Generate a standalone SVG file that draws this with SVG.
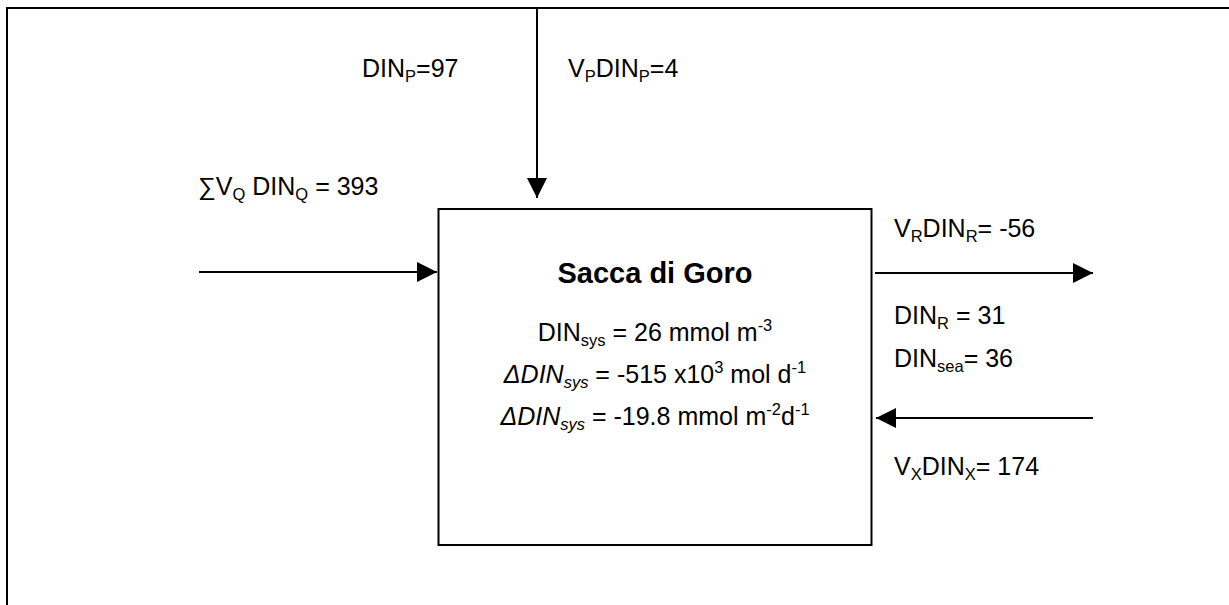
<svg xmlns="http://www.w3.org/2000/svg" width="1229" height="605" viewBox="0 0 1229 605">
<style>
text{font-family:"Liberation Sans",Arial,sans-serif;font-size:25px;fill:#000}
.title{font-weight:bold;font-size:29px}
.sub{font-size:16.5px;baseline-shift:-5px}
.sup{font-size:16.5px;baseline-shift:10px}
.it{font-style:italic}
.frame{fill:none;stroke:#000;stroke-width:2}
.conn{stroke:#000;stroke-width:2;fill:none}
</style>
<defs>
<marker id="ah" markerUnits="userSpaceOnUse" markerWidth="20" markerHeight="20" refX="20" refY="10" orient="auto">
<path d="M0,0 L20,10 L0,20 z" fill="#000"/>
</marker>
</defs>
<rect width="1229" height="605" fill="#fff"/>
<path class="frame" d="M7,605 L7,8 L1229,8"/>
<g id="box">
<rect x="438.5" y="209" width="433" height="336" fill="#fff" stroke="#000" stroke-width="2"/>
<text class="title" x="655" y="283" text-anchor="middle">Sacca di Goro</text>
<text x="655" y="341" text-anchor="middle">DIN<tspan class="sub">sys</tspan> = 26 mmol m<tspan class="sup">-3</tspan></text>
<text x="655" y="383" text-anchor="middle"><tspan class="it">ΔDIN</tspan><tspan class="sub it">sys</tspan> = -515 x10<tspan class="sup">3</tspan> mol d<tspan class="sup">-1</tspan></text>
<text x="655" y="425" text-anchor="middle"><tspan class="it">ΔDIN</tspan><tspan class="sub it">sys</tspan> = -19.8 mmol m<tspan class="sup">-2</tspan>d<tspan class="sup">-1</tspan></text>
</g>
<g id="connectors">
<line class="conn" x1="537" y1="8" x2="537" y2="198" marker-end="url(#ah)"/>
<line class="conn" x1="199" y1="272" x2="437" y2="272" marker-end="url(#ah)"/>
<line class="conn" x1="875" y1="273" x2="1093" y2="273" marker-end="url(#ah)"/>
<line class="conn" x1="1093" y1="418" x2="876" y2="418" marker-end="url(#ah)"/>
</g>
<g id="labels">
<text x="362" y="77">DIN<tspan class="sub">P</tspan>=97</text>
<text x="568" y="77">V<tspan class="sub">P</tspan>DIN<tspan class="sub">P</tspan>=4</text>
<text x="198" y="195">∑V<tspan class="sub">Q</tspan> DIN<tspan class="sub">Q</tspan> = 393</text>
<text x="894" y="237">V<tspan class="sub">R</tspan>DIN<tspan class="sub">R</tspan>= -56</text>
<text x="894" y="324">DIN<tspan class="sub">R</tspan> = 31</text>
<text x="894" y="367">DIN<tspan class="sub">sea</tspan>= 36</text>
<text x="894" y="475">V<tspan class="sub">X</tspan>DIN<tspan class="sub">X</tspan>= 174</text>
</g>
</svg>
